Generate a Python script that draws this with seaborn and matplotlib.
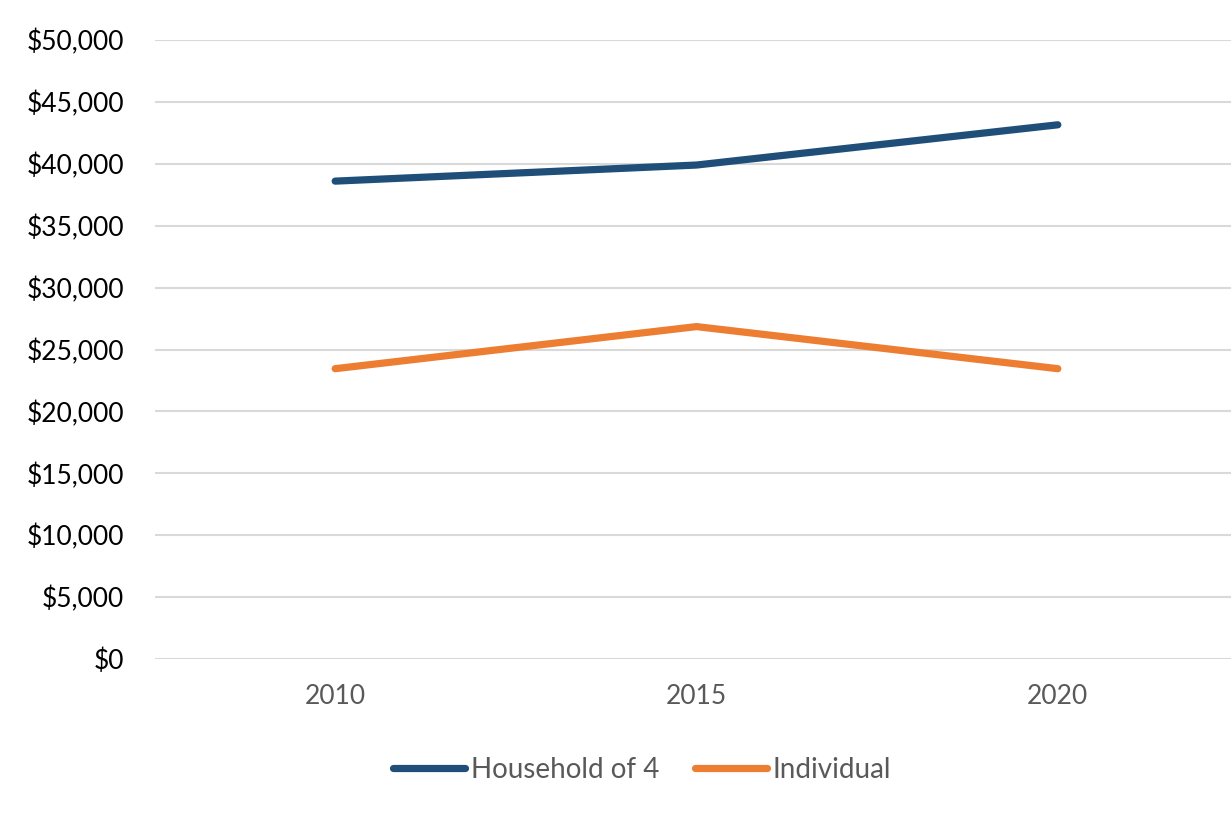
import matplotlib
matplotlib.use("Agg")
import matplotlib.pyplot as plt
import seaborn as sns
import pandas as pd
from matplotlib.ticker import FuncFormatter

years = [2010, 2015, 2020]
household_of_4 = [38600, 39900, 43150]
individual = [23450, 26850, 23450]
series_names = ["Household of 4", "Individual"]
colors = ["#1F4E79", "#ED7D31"]

df = pd.DataFrame({
    "year": years * 2,
    "value": household_of_4 + individual,
    "series": [series_names[0]] * 3 + [series_names[1]] * 3,
})

sns.set_theme(style="white")
plt.rcParams["font.family"] = ["Lato", "DejaVu Sans"]

fig = plt.figure(figsize=(12.31, 8.19), dpi=100)
ax = fig.add_axes([154.5 / 1231, (819 - 659) / 819, (1238.5 - 154.5) / 1231, (659 - 40) / 819])

sns.lineplot(data=df, x="year", y="value", hue="series", palette=colors,
             linewidth=5.2, ax=ax, legend=False, sort=False)
for line in ax.get_lines():
    line.set_solid_capstyle("round")
    line.set_solid_joinstyle("round")

ax.set_xlim(2007.5, 2022.5)
ax.set_ylim(0, 50000)
ax.set_yticks(range(0, 50001, 5000))
ax.set_xticks(years)
ax.yaxis.set_major_formatter(FuncFormatter(lambda v, p: f"${v:,.0f}"))
ax.grid(axis="y", color="#D9D9D9", linewidth=1.5)
ax.set_axisbelow(True)
for s in ax.spines.values():
    s.set_visible(False)
ax.tick_params(axis="y", length=0, pad=22, labelsize=19, labelcolor="#000000")
ax.tick_params(axis="x", length=0, pad=18, labelsize=19, labelcolor="#595959")
ax.set_xlabel("")
ax.set_ylabel("")

handles = [plt.Line2D([], [], color=c, linewidth=5.2, solid_capstyle="round") for c in colors]
fig.legend(handles, series_names, loc="center", bbox_to_anchor=(642 / 1231, (819 - 770) / 819),
           ncol=2, frameon=False, fontsize=20, labelcolor="#595959",
           handlelength=2.6, handletextpad=0.2, columnspacing=1.3)

fig.savefig("out.png", dpi=100)
